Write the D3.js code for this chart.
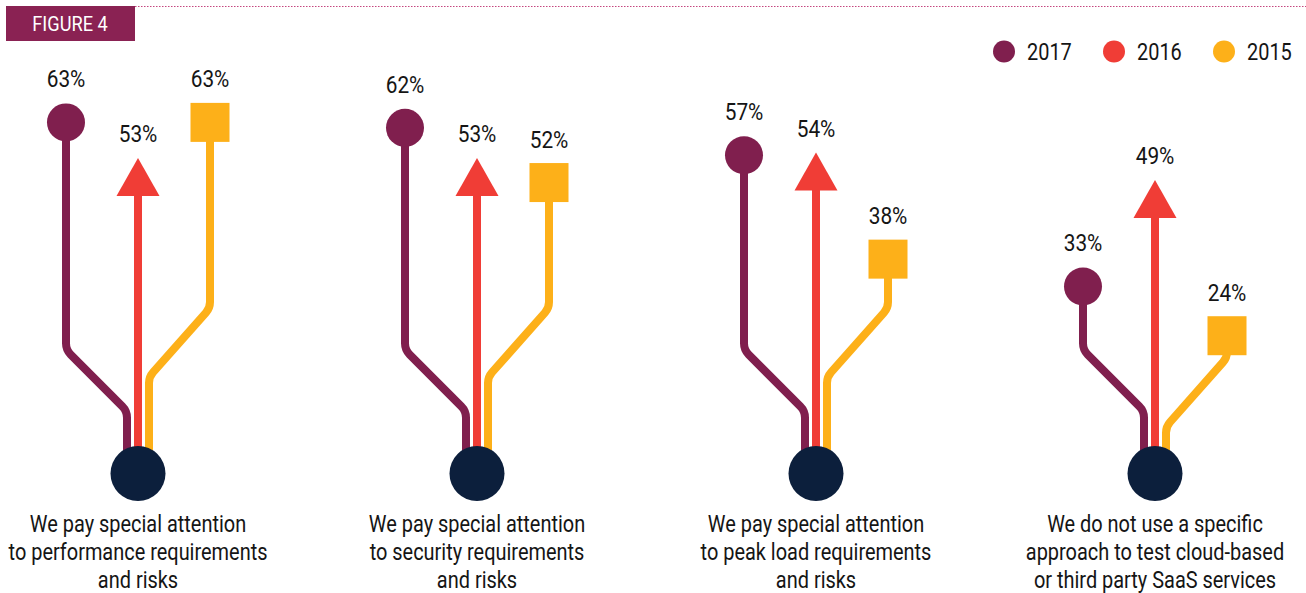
<!DOCTYPE html>
<html>
<head>
<meta charset="utf-8">
<script src="https://cdn.jsdelivr.net/npm/d3@7"></script>
<style>
  html, body { margin: 0; padding: 0; background: #fff; }
  svg { display: block; }
  text { font-family: "Liberation Sans Narrow", "Roboto", "Liberation Sans", sans-serif; fill: #151515; }
</style>
</head>
<body>
<div id="chart"></div>
<script>
// data
const categories = [
  ["We pay special attention", "to performance requirements", "and risks"],
  ["We pay special attention", "to security requirements", "and risks"],
  ["We pay special attention", "to peak load requirements", "and risks"],
  ["We do not use a specific", "approach to test cloud-based", "or third party SaaS services"]
];
const years = ["2017", "2016", "2015"];
const values2017 = [63, 62, 57, 33];
const values2016 = [53, 53, 54, 49];
const values2015 = [63, 52, 38, 24];

const colors = { "2017": "#801f4e", "2016": "#f03d36", "2015": "#fdb019" };
const hubColor = "#0c1f3c";

const width = 1306, height = 593;

const svg = d3.select("#chart").append("svg")
  .attr("width", width)
  .attr("height", height);

// no narrow font here, so squeeze the regular one to the figure's width
const probe = svg.append("text").style("font-size", "23px").text("to performance requirements");
const squeeze = Math.min(1, 259 / probe.node().getComputedTextLength());
probe.remove();

// header tab + dotted rule
svg.append("line")
  .attr("x1", 135).attr("x2", width)
  .attr("y1", 6.5).attr("y2", 6.5)
  .attr("stroke", "#c4477f")
  .attr("stroke-width", 1)
  .attr("stroke-dasharray", "1.5,1.5");

svg.append("rect")
  .attr("x", 6).attr("y", 6)
  .attr("width", 129).attr("height", 35)
  .attr("fill", "#8a2253");

svg.append("text")
  .attr("transform", `translate(70,31) scale(${squeeze},1)`)
  .attr("text-anchor", "middle")
  .style("fill", "#fff")
  .style("font-size", "21px")
  .text("FIGURE 4");

// legend
const legendX = d3.scalePoint().domain(years).range([1004, 1224]);
const legend = svg.append("g").selectAll("g")
  .data(years)
  .join("g")
  .attr("transform", d => `translate(${legendX(d)},51.5)`);

legend.append("circle")
  .attr("r", 11)
  .attr("fill", d => colors[d]);

legend.append("text")
  .attr("transform", `translate(23,8) scale(${squeeze},1)`)
  .style("font-size", "23px")
  .text(d => d);

// scales
const x = d3.scalePoint().domain(d3.range(categories.length)).range([138, 1155]);
const y = d3.scaleLinear().domain([0, 100]).range([467, -80]);

const hubY = 473.5, hubR = 27.5;
const outer = 72, inner = 11;
const endY = 456;
const corner = 16;
const markerHalf = 19;

const groups = svg.append("g").selectAll("g")
  .data(categories.map((c, i) => ({
    i, label: c, v17: values2017[i], v16: values2016[i], v15: values2015[i]
  })))
  .join("g")
  .attr("transform", d => `translate(${x(d.i)},0)`);

// 2017 branch (left)
groups.append("path")
  .attr("fill", "none")
  .attr("stroke", colors["2017"])
  .attr("stroke-width", 8)
  .attr("d", d => {
    const p = d3.path();
    const b1 = Math.max(350, y(d.v17) + 30);
    const b2 = b1 + 61;
    p.moveTo(-outer, y(d.v17));
    p.arcTo(-outer, b1, -inner, b2, corner);
    p.arcTo(-inner, b2, -inner, endY, corner);
    p.lineTo(-inner, endY);
    return p.toString();
  });

// 2015 branch (right)
groups.append("path")
  .attr("fill", "none")
  .attr("stroke", colors["2015"])
  .attr("stroke-width", 8)
  .attr("d", d => {
    const p = d3.path();
    const b1 = Math.max(308, y(d.v15) + 22);
    const b2 = b1 + 69;
    p.moveTo(outer, y(d.v15));
    p.arcTo(outer, b1, inner, b2, corner);
    p.arcTo(inner, b2, inner, endY, corner);
    p.lineTo(inner, endY);
    return p.toString();
  });

// 2016 stem (middle)
groups.append("line")
  .attr("x1", 0).attr("x2", 0)
  .attr("y1", endY)
  .attr("y2", d => y(d.v16) + markerHalf - 1)
  .attr("stroke", colors["2016"])
  .attr("stroke-width", 8);

// markers
groups.append("circle")
  .attr("cx", -outer)
  .attr("cy", d => y(d.v17))
  .attr("r", markerHalf)
  .attr("fill", colors["2017"]);

groups.append("path")
  .attr("fill", colors["2016"])
  .attr("d", d => {
    const c = y(d.v16);
    const p = d3.path();
    p.moveTo(0, c - markerHalf);
    p.lineTo(21.5, c + markerHalf);
    p.lineTo(-21.5, c + markerHalf);
    p.closePath();
    return p.toString();
  });

groups.append("rect")
  .attr("x", outer - 19.5)
  .attr("y", d => y(d.v15) - 19.5)
  .attr("width", 39).attr("height", 39)
  .attr("fill", colors["2015"]);

// hub
groups.append("circle")
  .attr("cy", hubY)
  .attr("r", hubR)
  .attr("fill", hubColor);

// value labels
const labelOf = [
  { key: "v17", dx: -outer },
  { key: "v16", dx: 0 },
  { key: "v15", dx: outer }
];
labelOf.forEach(l => {
  groups.append("text")
    .attr("transform", d => `translate(${l.dx},${y(d[l.key]) - 35}) scale(${squeeze},1)`)
    .attr("text-anchor", "middle")
    .style("font-size", "24px")
    .text(d => d[l.key] + "%");
});

// category labels
groups.append("text")
  .attr("transform", `scale(${squeeze},1)`)
  .attr("text-anchor", "middle")
  .style("font-size", "23px")
  .selectAll("tspan")
  .data(d => d.label)
  .join("tspan")
  .attr("x", 0)
  .attr("y", (d, i) => 532 + i * 28)
  .text(d => d);
</script>
</body>
</html>
